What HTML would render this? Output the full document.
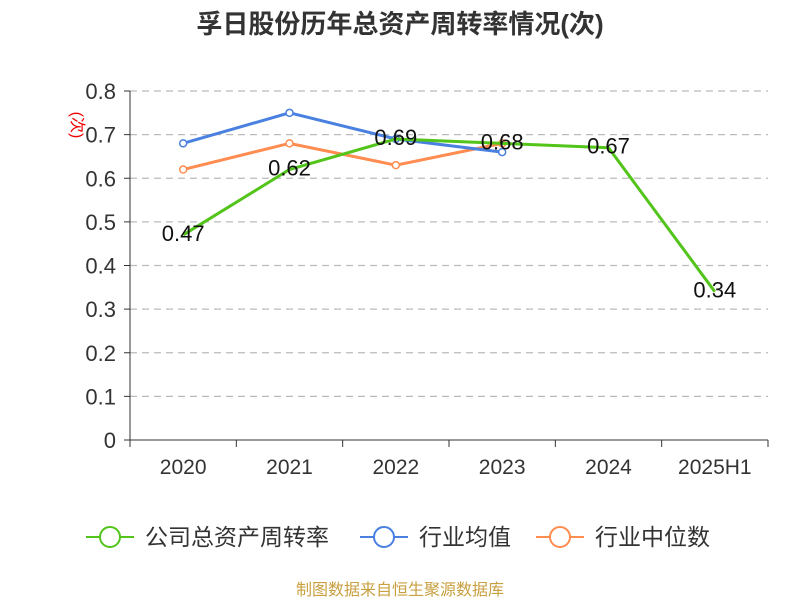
<!DOCTYPE html>
<html><head><meta charset="utf-8"><style>
body{margin:0;background:#fff;}
svg text{font-family:"Liberation Sans","Noto Sans CJK SC",sans-serif;}
</style></head><body>
<svg id="chart" width="800" height="600" xmlns="http://www.w3.org/2000/svg">
<text x="400" y="33" text-anchor="middle" font-size="26" font-weight="bold" fill="#333">孚日股份历年总资产周转率情况(次)</text>
<text transform="translate(72,125) rotate(90)" text-anchor="middle" font-size="16" fill="#e00">(次)</text>
<g id="grid"></g><g id="axes"></g><g id="series"></g><g id="labels"></g>
<g>
<g><line x1="86" y1="537" x2="134" y2="537" stroke="#52c41a" stroke-width="2"/><circle cx="110" cy="537" r="10" fill="#fff" stroke="#52c41a" stroke-width="2"/><text x="145" y="545" font-size="23" fill="#333">公司总资产周转率</text></g>
<g><line x1="360" y1="537" x2="408" y2="537" stroke="#4a80e0" stroke-width="2"/><circle cx="384" cy="537" r="10" fill="#fff" stroke="#4a80e0" stroke-width="2"/><text x="419" y="545" font-size="23" fill="#333">行业均值</text></g>
<g><line x1="536" y1="537" x2="584" y2="537" stroke="#ff8c50" stroke-width="2"/><circle cx="560" cy="537" r="10" fill="#fff" stroke="#ff8c50" stroke-width="2"/><text x="595" y="545" font-size="23" fill="#333">行业中位数</text></g>
</g>
<text x="400" y="595" text-anchor="middle" font-size="16" fill="#c8a040">制图数据来自恒生聚源数据库</text>
</svg>
<script>
const categories=["2020","2021","2022","2023","2024","2025H1"];
const companyValues=[0.47,0.62,0.69,0.68,0.67,0.34];
const industryAvg=[0.68,0.75,0.69,0.66];
const industryMedian=[0.62,0.68,0.63,0.68];
const yTicks=[0,0.1,0.2,0.3,0.4,0.5,0.6,0.7,0.8];
const NS="http://www.w3.org/2000/svg";
const x0=130,x1=768,y0=440,yTop=91,maxV=0.8;
const bw=(x1-x0)/categories.length;
const xs=i=>x0+bw*(i+0.5);
const ys=v=>y0-(v/maxV)*(y0-yTop);
function mk(tag,attrs,parent){const e=document.createElementNS(NS,tag);for(const k in attrs)e.setAttribute(k,attrs[k]);document.getElementById(parent).appendChild(e);return e;}
yTicks.forEach(t=>{
 if(t>0){const g=mk('line',{x1:x0,x2:x1,y1:ys(t),y2:ys(t),stroke:'#bbb','stroke-width':1.3,'stroke-dasharray':'7,5'},'grid');
 
 }
 const tk=mk('line',{x1:x0-6,x2:x0,y1:ys(t),y2:ys(t),stroke:'#333'},'axes');
 
 
 const tx=mk('text',{x:x0-14,y:ys(t)+8,'text-anchor':'end','font-size':22,fill:'#333'},'axes');
 tx.textContent=String(t);
 
 
});
const ya=mk('line',{x1:x0,x2:x0,y1:yTop,y2:y0,stroke:'#333'},'axes');


const xa=mk('line',{x1:x0,x2:x1,y1:y0,y2:y0,stroke:'#333'},'axes');


for(let i=0;i<=categories.length;i++){const t=mk('line',{x1:x0+bw*i,x2:x0+bw*i,y1:y0,y2:y0+7,stroke:'#333'},'axes');
 
 }
categories.forEach((c,i)=>{const t=mk('text',{x:xs(i),y:474,'text-anchor':'middle','font-size':21,fill:'#333'},'axes');t.textContent=c;
 
 });
function series(vals,color,name,markers){
 const p=mk('polyline',{points:vals.map((v,i)=>xs(i)+','+ys(v)).join(' '),fill:'none',stroke:color,'stroke-width':3},'series');
 
 
 if(markers)vals.forEach((v,i)=>{const c=mk('circle',{cx:xs(i),cy:ys(v),r:3.5,fill:'#fff',stroke:color,'stroke-width':1.5},'series');
 
 });
}
series(industryMedian,'#ff8c50','industry-median',true);
series(industryAvg,'#4a80e0','industry-avg',true);
series(companyValues,'#52c41a','company',false);
companyValues.forEach((v,i)=>{const t=mk('text',{x:xs(i),y:ys(v)+6,'text-anchor':'middle','font-size':22,fill:'#111'},'labels');t.textContent=v.toFixed(2);
 
 });
</script>
</body></html>
